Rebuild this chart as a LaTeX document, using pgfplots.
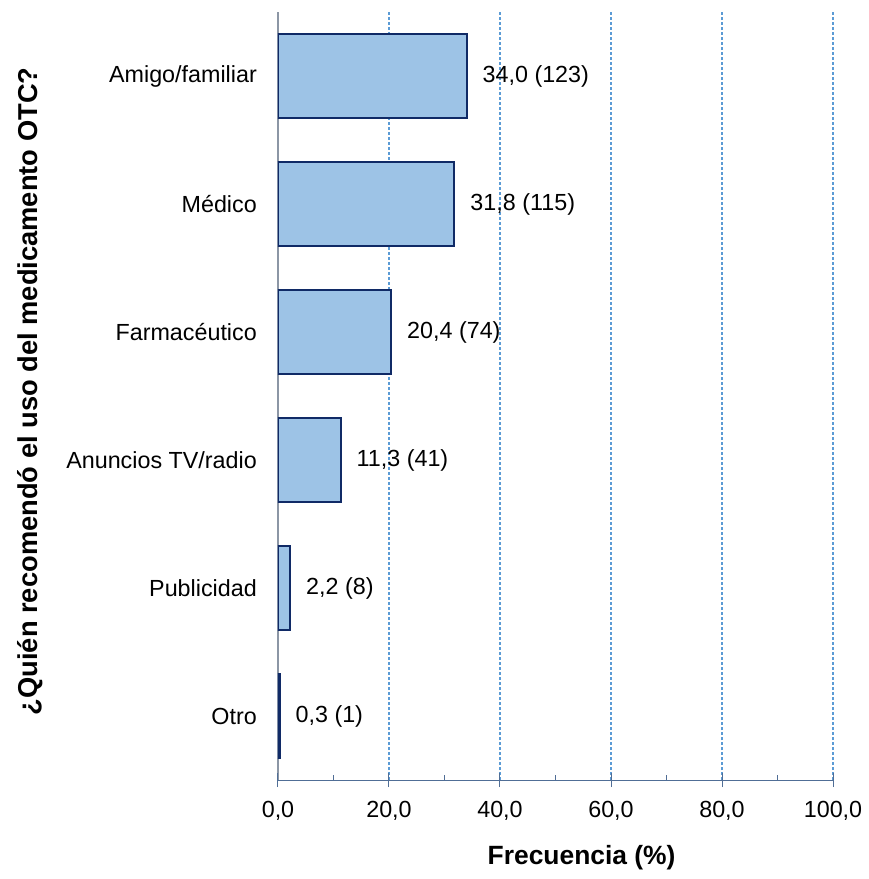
\documentclass[border=0pt]{standalone}
\usepackage{pgfplots}
\pgfplotsset{compat=1.18}
\usepackage{pgfplotstable}
\usepackage{fontspec}
\setmainfont{Liberation Sans}
\definecolor{barfill}{RGB}{157,195,230}
\definecolor{baredge}{RGB}{16,42,102}
\definecolor{gridblue}{RGB}{91,155,213}
\definecolor{xaxiscol}{RGB}{80,110,150}
\definecolor{yaxiscol}{RGB}{140,150,165}

\pgfplotstableread[col sep=semicolon]{
pos;val;lab
5;34.0;34,0 (123)
4;31.8;31,8 (115)
3;20.4;20,4 (74)
2;11.3;11,3 (41)
1;2.2;2,2 (8)
0;0.3;0,3 (1)
}\datatable

\begin{document}
\begin{tikzpicture}
\useasboundingbox (-278bp,-99bp) rectangle (591bp,780bp);
\begin{axis}[
  at={(0,0)}, anchor=south west,
  scale only axis, width=555bp, height=768bp,
  xbar, bar width=84bp,
  xmin=0, xmax=100, ymin=-0.5, ymax=5.5,
  axis x line*=bottom, axis y line*=left,
  x axis line style={-, draw=xaxiscol, line width=1bp},
  y axis line style={-, draw=yaxiscol, line width=1.2bp},
  xtick={20,40,...,100},
  extra x ticks={0},
  extra x tick style={grid=none},
  minor xtick={10,30,...,90},
  xmajorgrids,
  major x grid style={draw=gridblue, dash pattern=on 3bp off 2bp, line width=1.1bp},
  tick align=center,
  major tick length=14bp,
  minor tick length=5bp,
  xtick style={draw=xaxiscol, line width=1bp},
  minor x tick style={yshift=2.5bp},
  ytick={0,...,5},
  yticklabels={Otro, Publicidad, Anuncios TV/radio, Farmacéutico, Médico, Amigo/familiar},
  ytick style={draw=none},
  /pgf/number format/.cd, fixed, fixed zerofill, precision=1, use comma, assume math mode=true,
  /pgfplots/.cd,
  ticklabel style={font=\fontsize{23.4}{28}\selectfont},
  xticklabel style={anchor=north, inner sep=0pt, yshift=-14bp},
  yticklabel style={anchor=east, inner sep=0pt, xshift=-14bp},
  xlabel={Frecuencia (\%)},
  ylabel={¿Quién recomendó el uso del medicamento OTC?},
  xlabel style={at={(rel axis cs:0.547,-0.1016)}, anchor=center, font=\fontsize{26.5}{30}\selectfont\bfseries},
  ylabel style={at={(rel axis cs:-0.4468,0.506)}, anchor=center, rotate=0, font=\fontsize{27.4}{31}\selectfont\bfseries},
  point meta=explicit symbolic,
  nodes near coords,
  every node near coord/.append style={font=\fontsize{23.4}{28}\selectfont, anchor=west, inner sep=0pt, xshift=15bp, text=black},
]
\addplot[fill=barfill, draw=baredge, line width=2bp] table[x=val, y=pos, meta=lab] {\datatable};
\end{axis}
\end{tikzpicture}
\end{document}
